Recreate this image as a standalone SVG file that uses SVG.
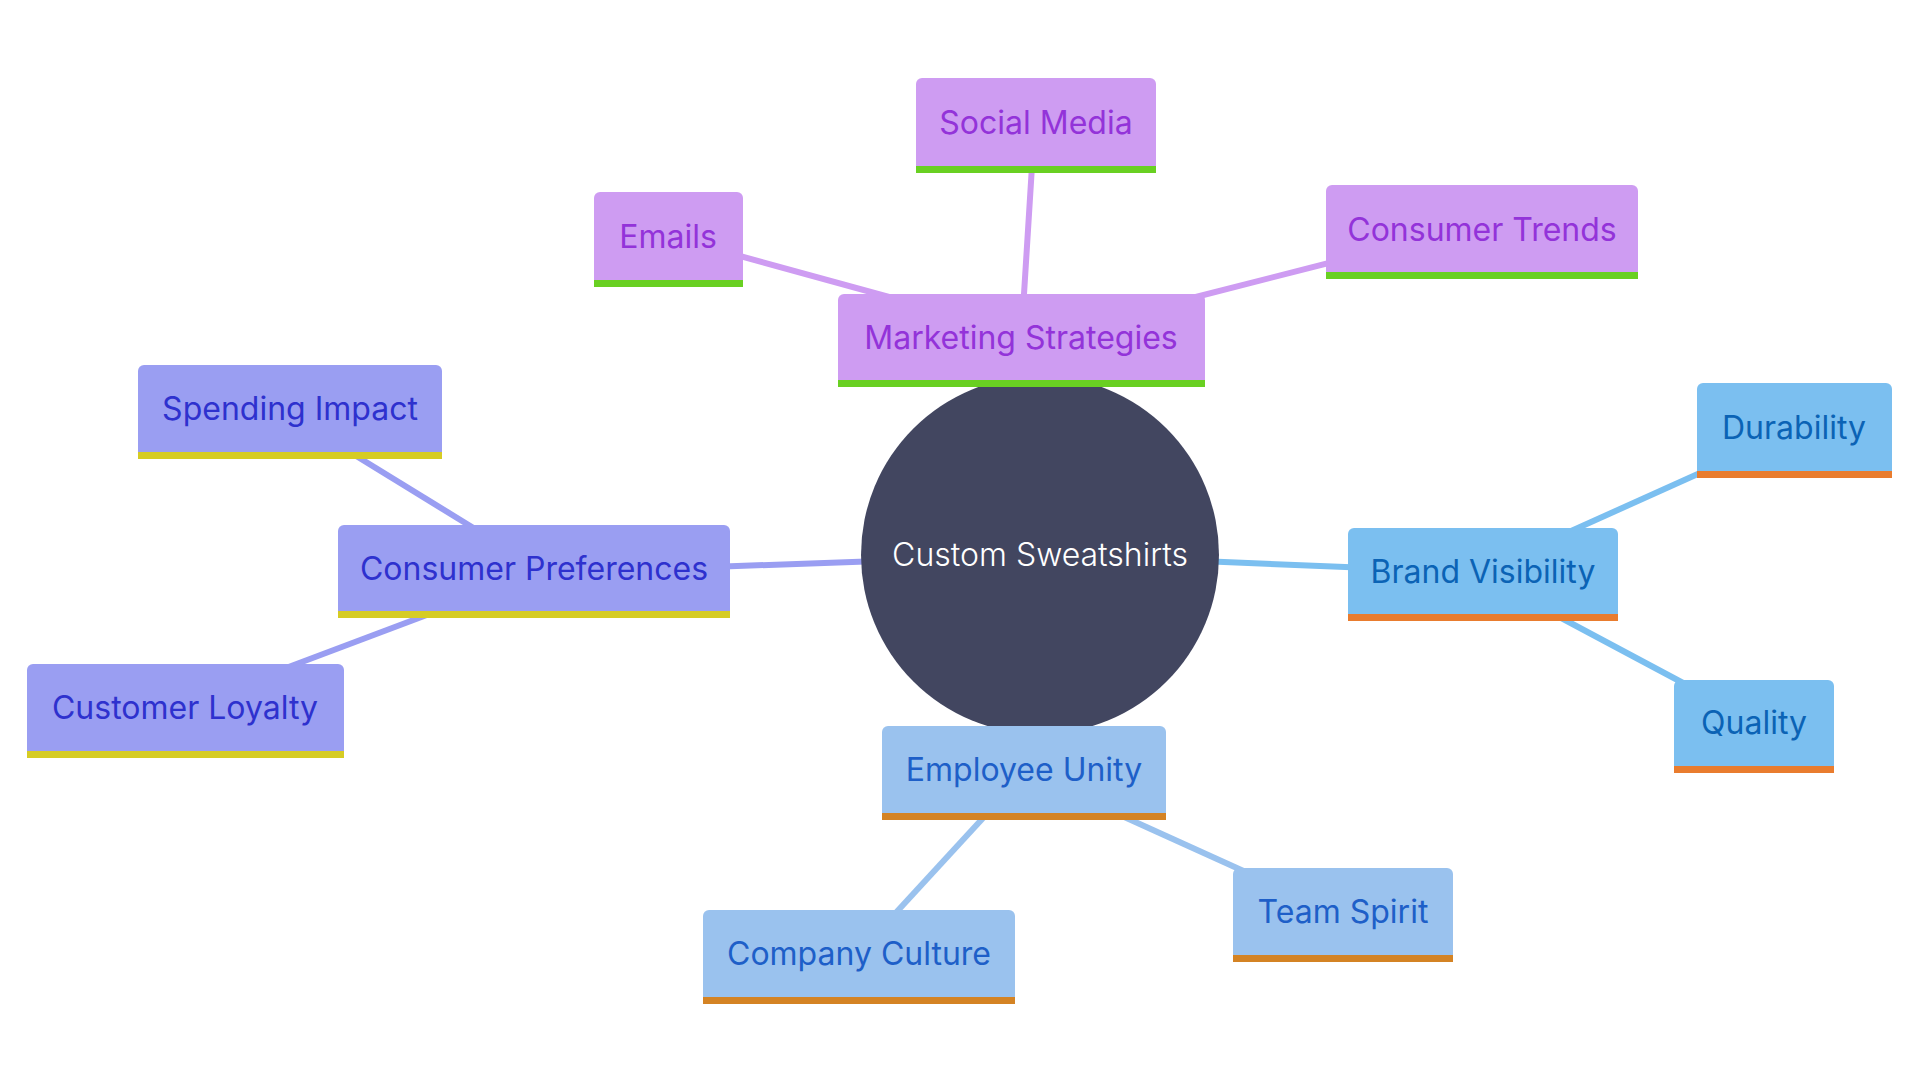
<svg xmlns="http://www.w3.org/2000/svg" width="1920" height="1080" viewBox="0 0 1920 1080">
<style>
text{font-family:Inter,"Open Sans","Liberation Sans",sans-serif;font-size:32px;text-anchor:middle}
.e{fill:none;stroke-width:6;stroke-linecap:butt}
.mk .b{fill:#CE9CF2}.mk .s{fill:#69D022}.mk text{fill:#9333D9}
.bv .b{fill:#7BBFF0}.bv .s{fill:#E97C2E}.bv text{fill:#0B63B5}
.eu .b{fill:#9AC2EE}.eu .s{fill:#D48324}.eu text{fill:#1E5FC8}
.cp .b{fill:#9A9EF2}.cp .s{fill:#D6CC24}.cp text{fill:#2E31CE}
</style>
<rect width="1920" height="1080" fill="#FFFFFF"/>
<g id="connectors">
<line class="e" stroke="#CE9CF2" x1="700" y1="245" x2="900" y2="300"/>
<line class="e" stroke="#CE9CF2" x1="1033" y1="150" x2="1023" y2="310"/>
<line class="e" stroke="#CE9CF2" x1="1360" y1="255" x2="1180" y2="301"/>
<line class="e" stroke="#7BBFF0" x1="1200" y1="561" x2="1370" y2="568"/>
<line class="e" stroke="#7BBFF0" x1="1720" y1="464" x2="1560" y2="536"/>
<line class="e" stroke="#7BBFF0" x1="1550" y1="612" x2="1700" y2="692"/>
<line class="e" stroke="#9AC2EE" x1="995" y1="805" x2="880" y2="930"/>
<line class="e" stroke="#9AC2EE" x1="1100" y1="806" x2="1270" y2="883"/>
<line class="e" stroke="#9A9EF2" x1="880" y1="561" x2="710" y2="567"/>
<line class="e" stroke="#9A9EF2" x1="480" y1="532" x2="340" y2="446"/>
<line class="e" stroke="#9A9EF2" x1="440" y1="610" x2="270" y2="674"/>
</g>
<g id="root">
<circle cx="1040" cy="555" r="179" fill="#424660"/>
<text x="1040" y="566" fill="#FFFFFF" font-size="33" font-weight="300">Custom Sweatshirts</text>
</g>
<g id="marketing" class="mk">
<path class="b" d="M838,387V300a6,6 0 0 1 6,-6H1199a6,6 0 0 1 6,6V387Z"/>
<rect class="s" x="838" y="380" width="367" height="7"/>
<text x="1021" y="349">Marketing Strategies</text>
</g>
<g id="social-media" class="mk">
<path class="b" d="M916,173V84a6,6 0 0 1 6,-6H1150a6,6 0 0 1 6,6V173Z"/>
<rect class="s" x="916" y="166" width="240" height="7"/>
<text x="1036" y="134">Social Media</text>
</g>
<g id="emails" class="mk">
<path class="b" d="M594,287V198a6,6 0 0 1 6,-6H737a6,6 0 0 1 6,6V287Z"/>
<rect class="s" x="594" y="280" width="149" height="7"/>
<text x="668" y="248">Emails</text>
</g>
<g id="consumer-trends" class="mk">
<path class="b" d="M1326,279V191a6,6 0 0 1 6,-6H1632a6,6 0 0 1 6,6V279Z"/>
<rect class="s" x="1326" y="272" width="312" height="7"/>
<text x="1482" y="241">Consumer Trends</text>
</g>
<g id="brand-visibility" class="bv">
<path class="b" d="M1348,621V534a6,6 0 0 1 6,-6H1612a6,6 0 0 1 6,6V621Z"/>
<rect class="s" x="1348" y="614" width="270" height="7"/>
<text x="1483" y="583">Brand Visibility</text>
</g>
<g id="durability" class="bv">
<path class="b" d="M1697,478V389a6,6 0 0 1 6,-6H1886a6,6 0 0 1 6,6V478Z"/>
<rect class="s" x="1697" y="471" width="195" height="7"/>
<text x="1794" y="439">Durability</text>
</g>
<g id="quality" class="bv">
<path class="b" d="M1674,773V686a6,6 0 0 1 6,-6H1828a6,6 0 0 1 6,6V773Z"/>
<rect class="s" x="1674" y="766" width="160" height="7"/>
<text x="1754" y="734">Quality</text>
</g>
<g id="employee-unity" class="eu">
<path class="b" d="M882,820V732a6,6 0 0 1 6,-6H1160a6,6 0 0 1 6,6V820Z"/>
<rect class="s" x="882" y="813" width="284" height="7"/>
<text x="1024" y="781">Employee Unity</text>
</g>
<g id="team-spirit" class="eu">
<path class="b" d="M1233,962V874a6,6 0 0 1 6,-6H1447a6,6 0 0 1 6,6V962Z"/>
<rect class="s" x="1233" y="955" width="220" height="7"/>
<text x="1343" y="923">Team Spirit</text>
</g>
<g id="company-culture" class="eu">
<path class="b" d="M703,1004V916a6,6 0 0 1 6,-6H1009a6,6 0 0 1 6,6V1004Z"/>
<rect class="s" x="703" y="997" width="312" height="7"/>
<text x="859" y="965">Company Culture</text>
</g>
<g id="consumer-preferences" class="cp">
<path class="b" d="M338,618V531a6,6 0 0 1 6,-6H724a6,6 0 0 1 6,6V618Z"/>
<rect class="s" x="338" y="611" width="392" height="7"/>
<text x="534" y="580">Consumer Preferences</text>
</g>
<g id="spending-impact" class="cp">
<path class="b" d="M138,459V371a6,6 0 0 1 6,-6H436a6,6 0 0 1 6,6V459Z"/>
<rect class="s" x="138" y="452" width="304" height="7"/>
<text x="290" y="420">Spending Impact</text>
</g>
<g id="customer-loyalty" class="cp">
<path class="b" d="M27,758V670a6,6 0 0 1 6,-6H338a6,6 0 0 1 6,6V758Z"/>
<rect class="s" x="27" y="751" width="317" height="7"/>
<text x="185" y="719">Customer Loyalty</text>
</g>
</svg>
